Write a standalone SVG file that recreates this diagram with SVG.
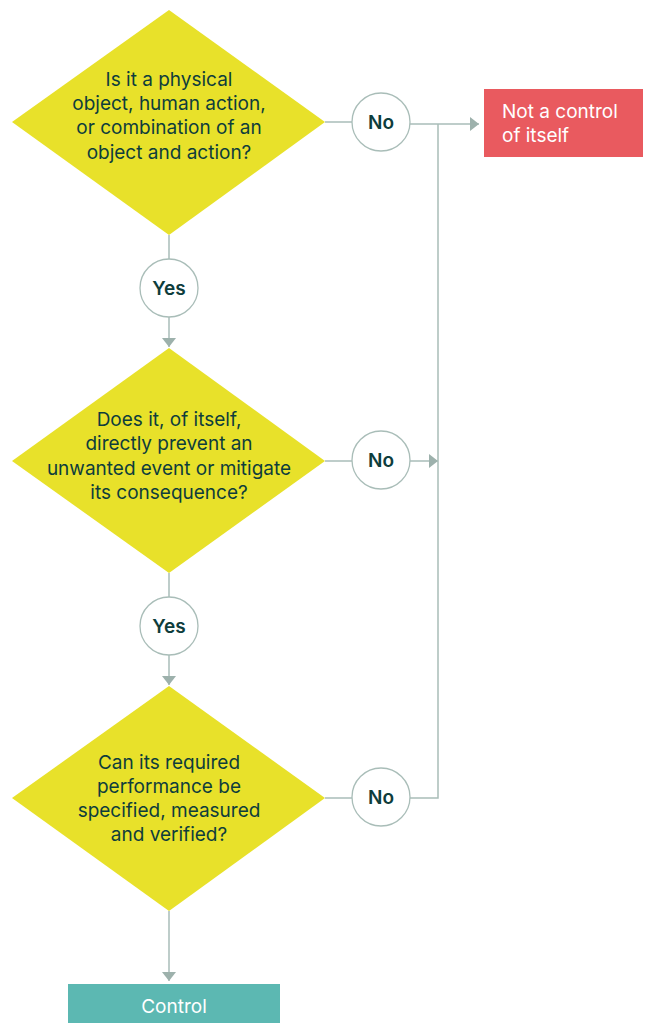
<svg xmlns="http://www.w3.org/2000/svg" width="646" height="1023" viewBox="0 0 646 1023">
<defs>
<style>
.d{fill:#E8E12A}
.q{font-family:Inter,"Liberation Sans",sans-serif;font-size:19px;fill:#0E3D3C;text-anchor:middle}
.c{fill:#fff;stroke:#A9BDB8;stroke-width:1.3}
.l{font-family:Inter,"Liberation Sans",sans-serif;font-size:19px;font-weight:600;fill:#0E3D3C;text-anchor:middle}
.w{font-family:Inter,"Liberation Sans",sans-serif;font-size:19px;fill:#fff}
.ln{fill:none;stroke:#A9BDB8;stroke-width:1.5}
</style>
<marker id="av" viewBox="0 0 9 14" refX="9" refY="7" markerWidth="9" markerHeight="14" markerUnits="userSpaceOnUse" orient="auto"><path d="M0,0L9,7L0,14z" fill="#9DB1AC"/></marker>
</defs>
<g id="connectors">
<line class="ln" x1="169" y1="235" x2="169" y2="259"/>
<line class="ln" x1="169" y1="317" x2="169" y2="347" marker-end="url(#av)"/>
<line class="ln" x1="169" y1="573" x2="169" y2="597"/>
<line class="ln" x1="169" y1="655" x2="169" y2="685" marker-end="url(#av)"/>
<line class="ln" x1="169" y1="911" x2="169" y2="981" marker-end="url(#av)"/>
<line class="ln" x1="325" y1="122" x2="352" y2="122"/>
<line class="ln" x1="325" y1="461" x2="352" y2="461"/>
<line class="ln" x1="325" y1="798" x2="352" y2="798"/>
<line class="ln" x1="410" y1="124" x2="479" y2="124" marker-end="url(#av)"/>
<line class="ln" x1="410" y1="461" x2="438" y2="461" marker-end="url(#av)"/>
<polyline class="ln" points="410,798 438,798 438,124"/>
</g>
<g id="q1">
<polygon class="d" points="169,10 325,122 169,235 12,122"/>
<text class="q" x="169" y="86">Is it a physical</text>
<text class="q" x="169" y="110">object, human action,</text>
<text class="q" x="169" y="134">or combination of an</text>
<text class="q" x="169" y="159">object and action?</text>
</g>
<g id="q2">
<polygon class="d" points="169,348 325,461 169,573 12,461"/>
<text class="q" x="169" y="426">Does it, of itself,</text>
<text class="q" x="169" y="450">directly prevent an</text>
<text class="q" x="169" y="475">unwanted event or mitigate</text>
<text class="q" x="169" y="499">its consequence?</text>
</g>
<g id="q3">
<polygon class="d" points="169,686 325,798 169,911 12,798"/>
<text class="q" x="169" y="769">Can its required</text>
<text class="q" x="169" y="793">performance be</text>
<text class="q" x="169" y="817">specified, measured</text>
<text class="q" x="169" y="841">and verified?</text>
</g>
<g id="yes1"><circle class="c" cx="169" cy="288" r="29"/><text class="l" x="169" y="295">Yes</text></g>
<g id="yes2"><circle class="c" cx="169" cy="626" r="29"/><text class="l" x="169" y="633">Yes</text></g>
<g id="no1"><circle class="c" cx="381" cy="122" r="29"/><text class="l" x="381" y="129">No</text></g>
<g id="no2"><circle class="c" cx="381" cy="460" r="29"/><text class="l" x="381" y="467">No</text></g>
<g id="no3"><circle class="c" cx="381" cy="797" r="29"/><text class="l" x="381" y="804">No</text></g>
<g id="notcontrol">
<rect x="484" y="89" width="159" height="68" fill="#E95A5F"/>
<text class="w" x="502" y="118">Not a control</text>
<text class="w" x="502" y="142">of itself</text>
</g>
<g id="control">
<rect x="68" y="984" width="212" height="39" fill="#5CB8B2"/>
<text class="w" x="174" y="1013" text-anchor="middle">Control</text>
</g>
</svg>
